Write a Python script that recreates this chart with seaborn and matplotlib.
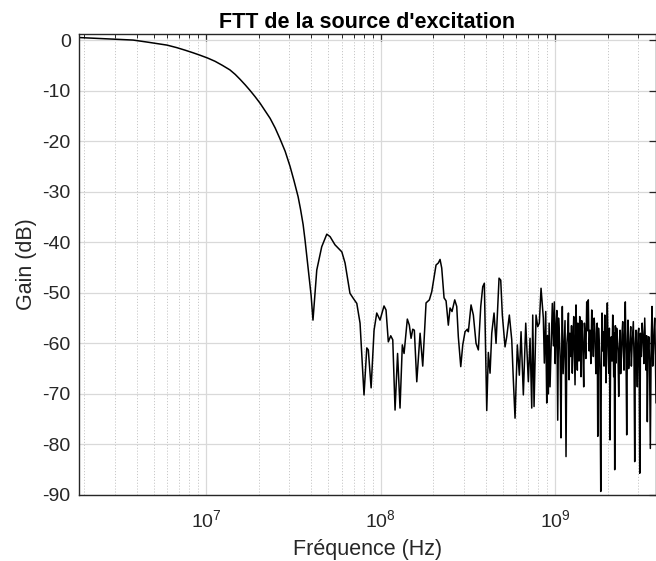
import numpy as np
import pandas as pd
import matplotlib
matplotlib.use("Agg")
import matplotlib.pyplot as plt
import seaborn as sns
from matplotlib.ticker import LogLocator, NullFormatter, FixedLocator

# frequencies in MHz, gain in dB
# smooth roll-off and first lobes, up to ~870 MHz
freq_low_mhz = [1.87, 2.3, 2.82, 3.3, 3.82, 4.6, 5.98, 6.8, 7.58, 8.4,
                9.24, 10.2, 11.26, 12.4, 13.7, 14.7, 15.7, 16.8, 17.9, 19.1,
                20.4, 21.8, 23.3, 24.9, 26.5, 28.4, 30.3, 31.9, 33.7, 34.8,
                36.0, 36.9, 38.4, 40.0, 41.0, 43.1, 46.0, 49.2, 51.4, 54.8,
                60.0, 62.6, 66.8, 69.8, 73.1, 76.3, 78.0, 80.4, 83.4, 85.1,
                88.3, 91.8, 95.1, 99.3, 104.7, 107.5, 110.8, 114.4, 117.5, 121.1,
                125.2, 129.3, 133.3, 136.4, 142.4, 146.2, 149.6, 153.0, 156.2, 161.3,
                168.5, 174.5, 182.3, 190.4, 196.5, 208.0, 214.4, 219.3, 224.2, 231.2,
                237.4, 244.6, 250.2, 256.8, 266.2, 273.3, 279.1, 288.2, 295.9, 305.0,
                314.4, 318.6, 330.1, 340.3, 352.6, 363.5, 375.2, 385.2, 393.4, 406.1,
                414.8, 424.2, 433.8, 447.1, 459.1, 477.7, 488.4, 498.9, 517.0, 528.7,
                547.2, 564.8, 576.8, 589.9, 608.1, 624.3, 638.6, 658.2, 679.4, 703.1,
                719.0, 735.4, 745.1, 758.1, 778.3, 796.0, 812.8, 831.4, 857.0, 868.4]
gain_low_db = [0.5, 0.35, 0.2, 0.1, 0.0, -0.4, -1.0, -1.5, -2.0, -2.5,
               -3.0, -3.55, -4.2, -5.0, -5.9, -6.8, -7.8, -8.9, -10.0, -11.2,
               -12.5, -14.0, -15.5, -17.4, -19.5, -22.0, -25.0, -27.8, -31.0, -33.5,
               -36.5, -39.5, -45.0, -50.5, -55.4, -45.5, -40.9, -38.4, -38.9, -40.5,
               -41.9, -44.1, -50.1, -51.1, -52.1, -56.0, -62.0, -70.2, -60.9, -61.3,
               -68.8, -57.4, -54.0, -55.4, -52.6, -53.4, -59.7, -58.5, -59.3, -73.2,
               -62.0, -72.8, -60.3, -62.0, -55.2, -56.4, -59.0, -57.2, -57.4, -67.6,
               -58.0, -64.5, -52.0, -51.4, -49.8, -44.5, -44.1, -43.4, -45.1, -51.0,
               -51.6, -56.4, -53.0, -53.7, -51.4, -52.7, -58.7, -64.6, -60.3, -57.7,
               -57.2, -57.7, -52.4, -54.4, -60.0, -61.3, -52.7, -48.8, -48.1, -73.3,
               -61.8, -65.9, -58.0, -54.0, -60.0, -47.1, -47.5, -54.4, -60.7, -58.7,
               -54.4, -59.3, -67.2, -74.8, -60.3, -66.3, -57.7, -70.2, -56.0, -67.6,
               -59.0, -72.8, -54.4, -72.5, -54.4, -56.7, -56.0, -49.1, -55.0, -63.9]

# dense noisy part, ~0.88 to 3.8 GHz
freq_high_mhz = [884.5, 890, 896.2, 905, 915.4, 925, 936.1, 950, 964.9, 978,
                 990.8, 1002, 1013, 1024, 1036, 1047, 1058, 1070, 1082, 1091,
                 1101, 1113, 1126, 1141, 1156, 1169, 1183, 1193, 1203, 1216,
                 1230, 1243, 1256, 1268, 1280, 1291, 1302, 1310, 1319, 1330,
                 1342, 1351, 1360, 1372, 1385, 1397, 1409, 1421, 1433, 1446,
                 1460, 1473, 1486, 1502, 1519, 1535, 1551, 1568, 1586, 1604,
                 1623, 1640, 1658, 1676, 1695, 1714, 1733, 1745, 1757, 1775,
                 1794, 1811, 1828, 1843, 1859, 1875, 1892, 1909, 1927, 1943,
                 1960, 1977, 1994, 2012, 2031, 2048, 2066, 2084, 2102, 2121,
                 2141, 2155, 2169, 2183, 2198, 2217, 2236, 2255, 2275, 2296,
                 2317, 2337, 2358, 2378, 2399, 2421, 2443, 2464, 2485, 2506,
                 2528, 2551, 2575, 2597, 2619, 2642, 2665, 2690, 2715, 2738,
                 2762, 2786, 2810, 2836, 2862, 2887, 2912, 2937, 2962, 2990,
                 3018, 3038, 3058, 3090, 3123, 3158, 3194, 3230, 3266, 3294,
                 3323, 3351, 3380, 3412, 3444, 3480, 3517, 3557, 3597, 3628,
                 3659, 3693, 3727, 3760, 3792]
gain_high_db = [-53.7, -63.5, -71.8, -58.5, -70.0, -56.0, -68.6, -60.2, -52.1, -60.5,
                -51.8, -64.0, -56.7, -53.5, -75.2, -55.0, -58.0, -63.0, -78.7, -62.5,
                -52.7, -66.0, -61.3, -55.5, -82.4, -60.0, -57.7, -54.0, -67.2, -58.0,
                -62.6, -56.5, -65.9, -59.5, -54.7, -61.0, -68.2, -60.0, -52.4, -58.0,
                -65.3, -56.0, -61.3, -63.5, -54.7, -59.0, -66.6, -55.5, -57.4, -62.0,
                -68.6, -56.0, -58.3, -63.0, -51.8, -57.5, -51.4, -61.5, -57.4, -64.0,
                -53.4, -58.5, -62.6, -55.0, -58.0, -66.0, -61.3, -56.0, -78.4, -57.0,
                -60.7, -66.5, -89.3, -63.0, -54.0, -61.5, -57.7, -64.5, -54.4, -59.0,
                -67.8, -58.5, -52.0, -60.0, -65.9, -57.0, -79.1, -61.0, -58.7, -63.5,
                -54.4, -60.5, -66.6, -58.0, -85.0, -56.5, -63.9, -57.0, -58.7, -62.0,
                -70.5, -61.0, -57.4, -66.0, -62.6, -58.0, -55.7, -61.5, -65.3, -57.0,
                -51.8, -62.0, -78.1, -60.5, -55.4, -65.0, -62.6, -59.0, -56.7, -64.5,
                -60.7, -58.0, -55.7, -63.0, -83.4, -60.0, -57.4, -62.5, -68.6, -58.0,
                -57.0, -66.5, -85.7, -58.0, -62.6, -56.0, -58.7, -64.0, -55.0, -60.0,
                -65.3, -58.5, -75.5, -62.0, -58.7, -63.0, -80.8, -60.0, -52.7, -64.5,
                -62.0, -57.5, -55.0, -62.0, -71.8]

y_ticks = [-90, -80, -70, -60, -50, -40, -30, -20, -10, 0]
x_ticks = [1e7, 1e8, 1e9]
x_tick_labels = ["$10^{7}$", "$10^{8}$", "$10^{9}$"]

df = pd.DataFrame({
    "f": np.array(freq_low_mhz + freq_high_mhz) * 1e6,
    "g": gain_low_db + gain_high_db,
})

sns.set_style("white")
plt.rcParams["font.family"] = ["Liberation Sans", "DejaVu Sans"]
plt.rcParams["mathtext.fontset"] = "custom"
plt.rcParams["mathtext.rm"] = "Liberation Sans"
plt.rcParams["mathtext.it"] = "Liberation Sans:italic"

fig = plt.figure(figsize=(6.56, 5.61), dpi=100)
ax = fig.add_axes([79 / 656, 1 - 495 / 561, 1 - 79 / 656, (495 - 34) / 561])

sns.lineplot(data=df, x="f", y="g", color="black", linewidth=1.1,
             estimator=None, sort=False, ax=ax)

ax.set_xscale("log")
ax.set_xlim(1.87e6, 3.79e9)
ax.set_ylim(-90, 1.2)

ax.xaxis.set_major_locator(FixedLocator(x_ticks))
ax.set_xticklabels(x_tick_labels)
ax.xaxis.set_minor_locator(LogLocator(base=10, subs=np.arange(2, 10), numticks=20))
ax.xaxis.set_minor_formatter(NullFormatter())
ax.set_yticks(y_ticks)
ax.set_yticklabels([str(v) for v in y_ticks])

ax.grid(True, which="major", color="#d9d9d9", linewidth=0.9, linestyle="-")
ax.grid(True, which="minor", axis="x", color="#c8c8c8", linewidth=0.7, linestyle=(0, (1.2, 1.8)))
ax.set_axisbelow(True)

for s in ax.spines.values():
    s.set_color("#262626")
    s.set_linewidth(1.0)
ax.tick_params(which="both", direction="in", top=True, right=True, colors="#262626",
               labelsize=14, labelcolor="#262626")
ax.tick_params(which="major", length=5, width=0.9)
ax.tick_params(which="minor", length=3, width=0.7)
ax.tick_params(axis="x", pad=10)
ax.tick_params(axis="y", pad=6)

ax.set_xlabel("Fréquence (Hz)", fontsize=15.5, color="#262626", labelpad=6)
ax.set_ylabel("Gain (dB)", fontsize=15.5, color="#262626", labelpad=4)
ax.set_title("FTT de la source d'excitation", fontsize=15.5, fontweight="bold",
             color="black", pad=4)

fig.savefig("out.png", dpi=100)
